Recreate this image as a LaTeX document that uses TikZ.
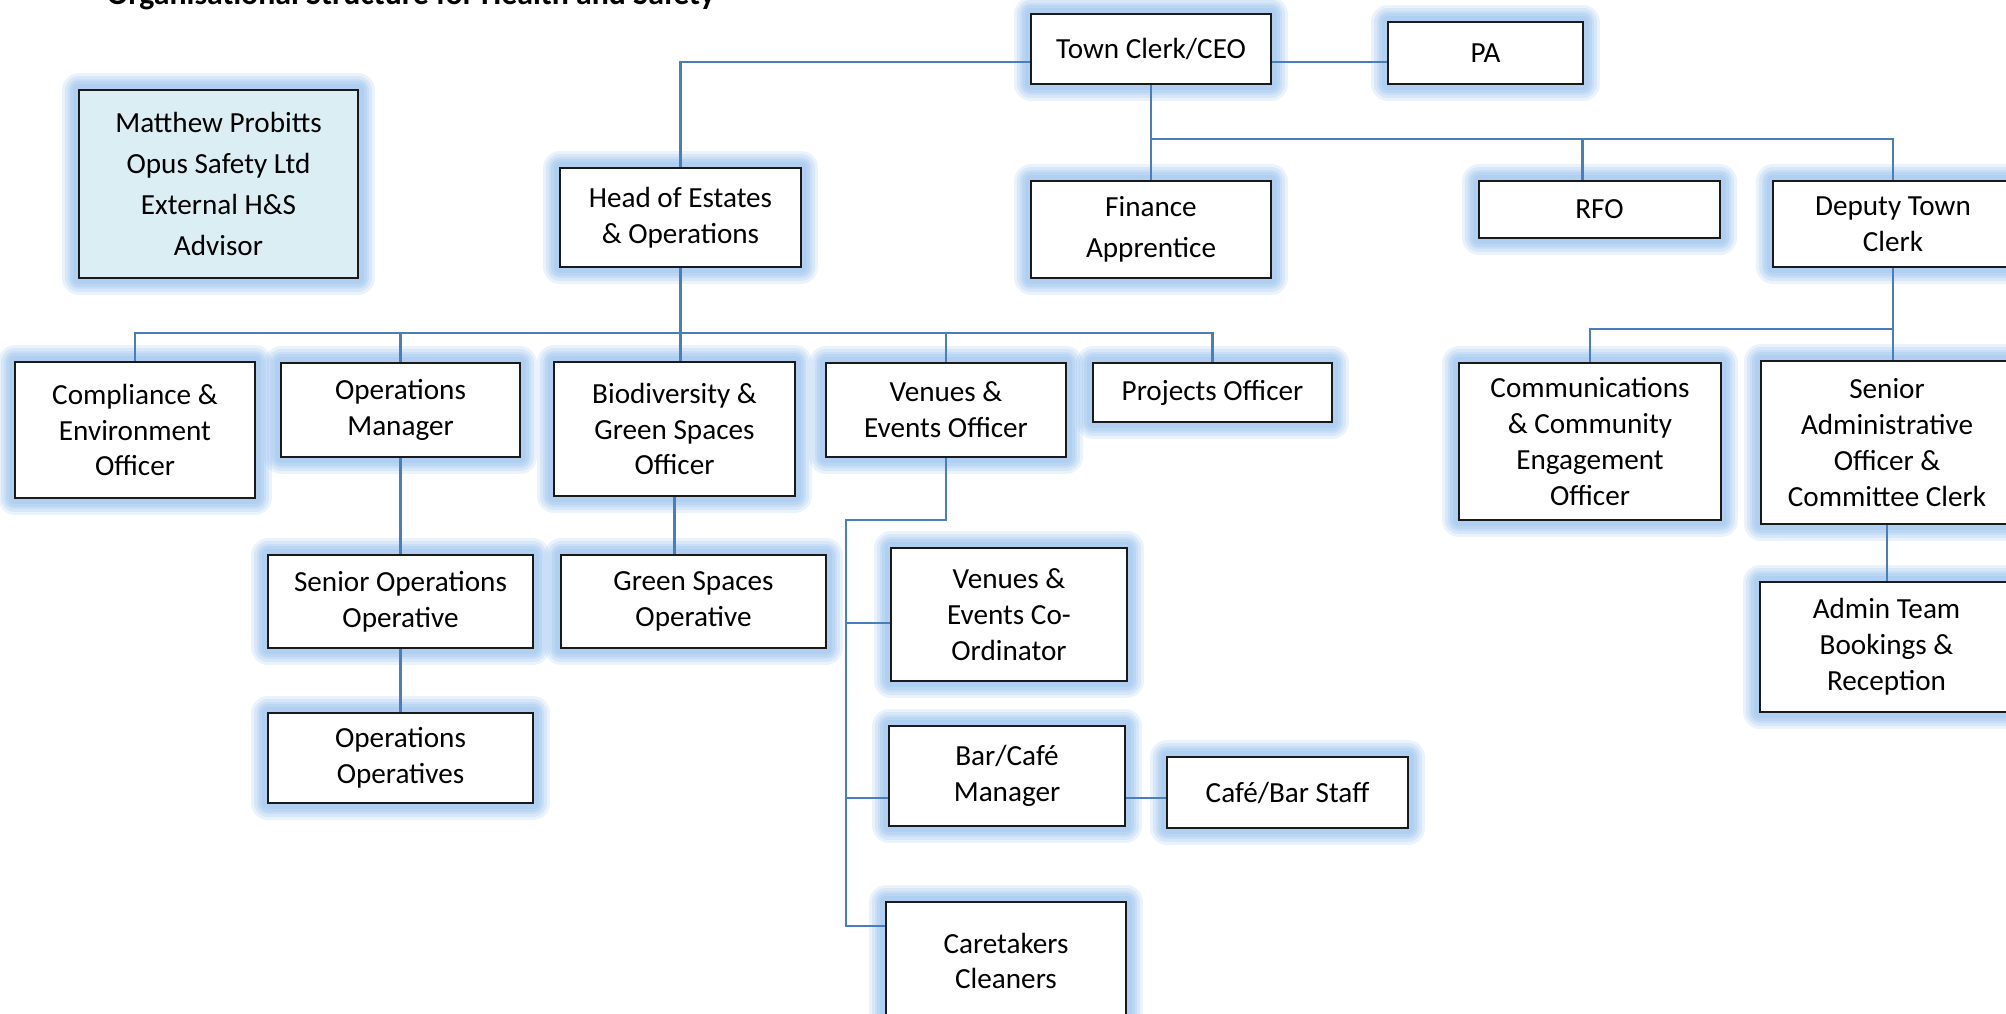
\documentclass[tikz,border=0pt]{standalone}
\usepackage{fontspec}
\setmainfont{Carlito}
\usetikzlibrary{calc}
\definecolor{linkc}{RGB}{74,126,187}
\definecolor{glowc}{RGB}{140,185,235}
\definecolor{advfill}{RGB}{219,238,244}
\definecolor{boxline}{RGB}{26,26,26}
\tikzset{
  box/.style={draw=boxline, line width=.6pt, fill=white, align=center, inner sep=1pt,
    font=\fontsize{8.3}{10.2}\selectfont,
    preaction={draw=glowc, line width=9.5pt, opacity=.18, line join=round},
    preaction={draw=glowc, line width=8pt, opacity=.2, line join=round},
    preaction={draw=glowc, line width=6.5pt, opacity=.2, line join=round},
    preaction={draw=glowc, line width=5pt, opacity=.22, line join=round},
    preaction={draw=glowc, line width=3.5pt, opacity=.25, line join=round}},
  loose/.style={font=\fontsize{8.3}{11.7}\selectfont},
  sz/.style 2 args={minimum width=#1cm, minimum height=#2cm},
  link/.style={draw=linkc, line width=.7pt}
}

\begin{document}
\begin{tikzpicture}
  \useasboundingbox (0,0) rectangle (20.06,-10.13);
  \clip (0,0) rectangle (20.06,-10.13);
  \node[anchor=base, font=\fontsize{9.05}{11}\selectfont\bfseries] (title) at (4.11,-0.05) {Organisational Structure for Health and Safety};

  \node[box, loose, fill=advfill, sz={2.79}{1.88}] (adv) at (2.185,-1.84) {Matthew Probitts\\Opus Safety Ltd\\External H\&S\\Advisor};
  \node[box, sz={2.40}{0.70}] (ceo) at (11.51,-0.49) {Town Clerk/CEO};
  \node[box, sz={1.95}{0.62}] (pa) at (14.855,-0.53) {PA};
  \node[box, sz={2.41}{0.99}] (head) at (6.805,-2.175) {Head of Estates\\\& Operations};
  \node[box, loose, sz={2.40}{0.97}] (fin) at (11.51,-2.295) {Finance\\Apprentice};
  \node[box, sz={2.41}{0.57}] (rfo) at (15.995,-2.095) {RFO};
  \node[box, sz={2.40}{0.86}] (dep) at (18.93,-2.24) {Deputy Town\\Clerk};

  \node[box, sz={2.40}{1.36}] (comp) at (1.35,-4.30) {Compliance \&\\Environment\\Officer};
  \node[box, sz={2.39}{0.94}] (opsm) at (4.005,-4.10) {Operations\\Manager};
  \node[box, sz={2.41}{1.34}] (bio) at (6.745,-4.29) {Biodiversity \&\\Green Spaces\\Officer};
  \node[box, sz={2.40}{0.94}] (veo) at (9.46,-4.10) {Venues \&\\Events Officer};
  \node[box, sz={2.39}{0.59}] (proj) at (12.125,-3.925) {Projects Officer};
  \node[box, sz={2.62}{1.57}] (comm) at (15.90,-4.415) {Communications\\\& Community\\Engagement\\Officer};
  \node[box, sz={2.52}{1.63}] (sao) at (18.87,-4.425) {Senior\\Administrative\\Officer \&\\Committee Clerk};

  \node[box, sz={2.65}{0.93}] (sop) at (4.005,-6.015) {Senior Operations\\Operative};
  \node[box, sz={2.65}{0.90}] (oop) at (4.005,-7.58) {Operations\\Operatives};
  \node[box, sz={2.65}{0.93}] (gso) at (6.935,-6.015) {Green Spaces\\Operative};
  \node[box, sz={2.36}{1.33}] (vec) at (10.09,-6.145) {Venues \&\\Events Co-\\Ordinator};
  \node[box, sz={2.36}{1.00}] (bcm) at (10.07,-7.76) {Bar/Café\\Manager};
  \node[box, sz={2.41}{0.71}] (cbs) at (12.875,-7.925) {Café/Bar Staff};
  \node[box, sz={2.40}{1.18}] (care) at (10.06,-9.61) {Caretakers\\Cleaners};
  \node[box, sz={2.53}{1.30}] (admin) at (18.865,-6.47) {Admin Team\\Bookings \&\\Reception};

  \coordinate (ceoL) at ([yshift=-.13cm]ceo.west);
  \coordinate (ceoR) at ([yshift=-.13cm]ceo.east);
  \coordinate (ceoBus) at (11.51,-1.39);
  \coordinate (estBus) at (6.805,-3.33);
  \coordinate (veBend) at (8.46,-5.20);
  \coordinate (depBus) at (18.93,-3.29);
  \coordinate (vecL) at ([yshift=-.085cm]vec.west);
  \coordinate (bcmL) at ([yshift=-.22cm]bcm.west);
  \coordinate (bcmR) at ([yshift=-.22cm]bcm.east);
  \coordinate (careL) at ([yshift=.35cm]care.west);

  \draw[link] (ceoL) -| (head.north);
  \draw[link] (ceoR) -- (ceoR -| pa.west);
  \draw[link] (ceo.south) -- (fin.north);
  \draw[link] (ceoBus) -| ([xshift=-.17cm]rfo.north);
  \draw[link] (ceoBus) -| (dep.north);

  \draw[link] (head.south) -- (head.south |- bio.north);
  \draw[link] (comp.north) |- (estBus -| proj.north) -- (proj.north);
  \draw[link] (opsm.north) -- (opsm.north |- estBus);
  \draw[link] (veo.north) -- (veo.north |- estBus);
  \draw[link] (opsm.south) -- (sop.north);
  \draw[link] (sop.south) -- (oop.north);
  \draw[link] (bio.south) -- (bio.south |- gso.north);

  \draw[link] (veo.south) |- (veBend) |- (careL);
  \draw[link] (veBend |- vecL) -- (vecL);
  \draw[link] (veBend |- bcmL) -- (bcmL);
  \draw[link] (bcmR) -- (bcmR -| cbs.west);

  \draw[link] (dep.south) -- (dep.south |- sao.north);
  \draw[link] (depBus) -| (comm.north);
  \draw[link] (sao.south) -- (sao.south |- admin.north);
\end{tikzpicture}
\end{document}
